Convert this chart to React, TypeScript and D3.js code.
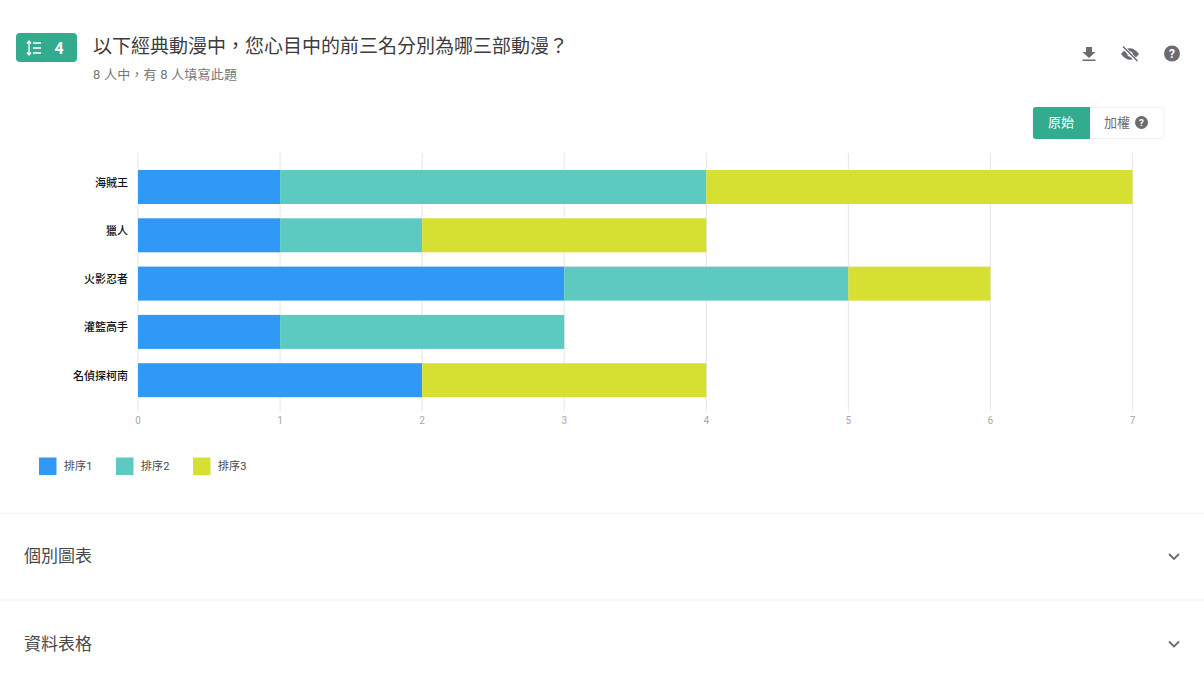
import React, { useEffect, useRef } from 'react';
import * as d3 from 'd3';

const categories = ['海賊王', '獵人', '火影忍者', '灌籃高手', '名偵探柯南'];
const seriesNames = ['排序1', '排序2', '排序3'];
const rank1 = [1, 1, 3, 1, 2];
const rank2 = [3, 1, 2, 2, 0];
const rank3 = [3, 2, 1, 0, 2];
const colors = ['#3098f5', '#5ccac0', '#d6e033'];
const xTicks = [0, 1, 2, 3, 4, 5, 6, 7];

const FONT = 'Roboto, "Noto Sans CJK TC", sans-serif';
const GREEN = '#32ab8e';
const ICON = '#6b6b70';

const HelpIcon = ({ cx, cy, r }: { cx: number; cy: number; r: number }) => (
    <g>
        <circle cx={cx} cy={cy} r={r} fill={ICON} />
        <text x={cx} y={cy + r * 0.52} textAnchor="middle" fontSize={r * 1.5} fontWeight={700} fill="#fff" fontFamily={FONT}>?</text>
    </g>
);

const App: React.FC = () => {
    const chartRef = useRef<SVGGElement | null>(null);

    useEffect(() => {
        const x = d3.scaleLinear().domain([0, 7]).range([138, 1132.5]);
        const y = d3.scaleBand<string>().domain(categories).range([162.85, 404.35]).paddingInner(0.296).paddingOuter(0.148);

        const rows = categories.map((c, i) => ({ name: c, 0: rank1[i], 1: rank2[i], 2: rank3[i] }));
        const stacked = d3.stack<any, any>().keys([0, 1, 2])(rows);

        const g = d3.select(chartRef.current);
        g.selectAll('*').remove();

        // grid lines
        g.append('g')
            .selectAll('line')
            .data(xTicks)
            .join('line')
            .attr('x1', d => x(d))
            .attr('x2', d => x(d))
            .attr('y1', 153)
            .attr('y2', 411)
            .attr('stroke', '#e9e9ec')
            .attr('stroke-width', 1.2);

        // bars
        g.append('g')
            .selectAll('g')
            .data(stacked)
            .join('g')
            .attr('fill', (_, i) => colors[i])
            .selectAll('rect')
            .data(d => d.map(v => ({ v, name: v.data.name })))
            .join('rect')
            .attr('x', d => x(d.v[0]))
            .attr('width', d => x(d.v[1]) - x(d.v[0]))
            .attr('y', d => y(d.name) as number)
            .attr('height', y.bandwidth());

        // x tick labels
        g.append('g')
            .selectAll('text')
            .data(xTicks)
            .join('text')
            .attr('x', d => x(d))
            .attr('y', 424)
            .attr('text-anchor', 'middle')
            .attr('font-size', 10)
            .attr('fill', '#a8a8ac')
            .text(d => d);

        // y labels
        g.append('g')
            .selectAll('text')
            .data(categories)
            .join('text')
            .attr('x', 128)
            .attr('y', d => (y(d) as number) + y.bandwidth() / 2 - 0.5)
            .attr('text-anchor', 'end')
            .attr('font-size', 11)
            .attr('font-weight', 500)
            .attr('fill', '#111')
            .text(d => d);

        // legend
        const legend = d3.scaleOrdinal<string, number>().domain(seriesNames).range([39, 116, 193]);
        const items = g.append('g').selectAll('g').data(seriesNames).join('g');
        items.append('rect')
            .attr('x', d => legend(d))
            .attr('y', 457.5)
            .attr('width', 17.5)
            .attr('height', 17.5)
            .attr('fill', (_, i) => colors[i]);
        items.append('text')
            .attr('x', d => legend(d) + 25)
            .attr('y', 470)
            .attr('font-size', 11)
            .attr('fill', '#48484c')
            .style('letter-spacing', '0.1px')
            .text(d => d);
    }, []);

    return (
        <svg width={1204} height={680} fontFamily={FONT} style={{ position: 'fixed', left: 0, top: 0, background: '#fff' }}>
            {/* question badge */}
            <rect x={16} y={33} width={61} height={29} rx={4} fill={GREEN} />
            <g stroke="#fff" strokeWidth={1.3} fill="none">
                <path d="M29 42V54M27 43.5L29 41L31 43.5M27 52.5L29 55L31 52.5" />
                <path d="M33 43H41M33 48H41M33 53H41" />
            </g>
            <text x={59} y={53.5} textAnchor="middle" fontSize={16} fontWeight={700} fill="#fff">4</text>

            <text x={93} y={53} fontSize={19} fill="#3c3c40">以下經典動漫中，您心目中的前三名分別為哪三部動漫？</text>
            <text x={93} y={79} fontSize={13} fill="#77777b" style={{ letterSpacing: '0.2px' }}>8 人中，有 8 人填寫此題</text>

            {/* top right icons */}
            <path d="M1086 47H1092V52H1095.5L1089 58L1082.5 52H1086ZM1082.5 59.5H1095.5V61H1082.5Z" fill={ICON} />
            <path d="M1121 54Q1130 42.5 1139 54Q1130 65.5 1121 54Z" fill={ICON} />
            <circle cx={1130} cy={54} r={2.6} fill="#fff" />
            <path d="M1123 47L1137 61" stroke="#fff" strokeWidth={3.6} />
            <path d="M1123 46.5L1137.5 61" stroke={ICON} strokeWidth={1.5} />
            <HelpIcon cx={1172} cy={53.5} r={8} />

            {/* raw / weighted toggle */}
            <rect x={1033} y={107.5} width={131} height={31} rx={3} fill="#fff" stroke="#f0f0f3" />
            <path d="M1036 107H1090V139H1036A3 3 0 0 1 1033 136V110A3 3 0 0 1 1036 107Z" fill={GREEN} />
            <text x={1061} y={127} textAnchor="middle" fontSize={13} fill="#fff">原始</text>
            <text x={1117} y={127} textAnchor="middle" fontSize={13} fill="#6b6b70">加權</text>
            <HelpIcon cx={1141.5} cy={122.5} r={6.5} />

            <g ref={chartRef} />

            {/* collapsed sections */}
            <line x1={0} x2={1204} y1={513.5} y2={513.5} stroke="#f6f5f8" strokeWidth={1.5} />
            <line x1={0} x2={1204} y1={600} y2={600} stroke="#f6f5f8" strokeWidth={1.5} />
            <text x={24} y={562} fontSize={17} fill="#48484c">個別圖表</text>
            <text x={24} y={650} fontSize={17} fill="#48484c">資料表格</text>
            <path d="M1169 554L1174 559L1179 554" fill="none" stroke={ICON} strokeWidth={1.8} />
            <path d="M1169 641.5L1174 646.5L1179 641.5" fill="none" stroke={ICON} strokeWidth={1.8} />
        </svg>
    );
};

export default App;
